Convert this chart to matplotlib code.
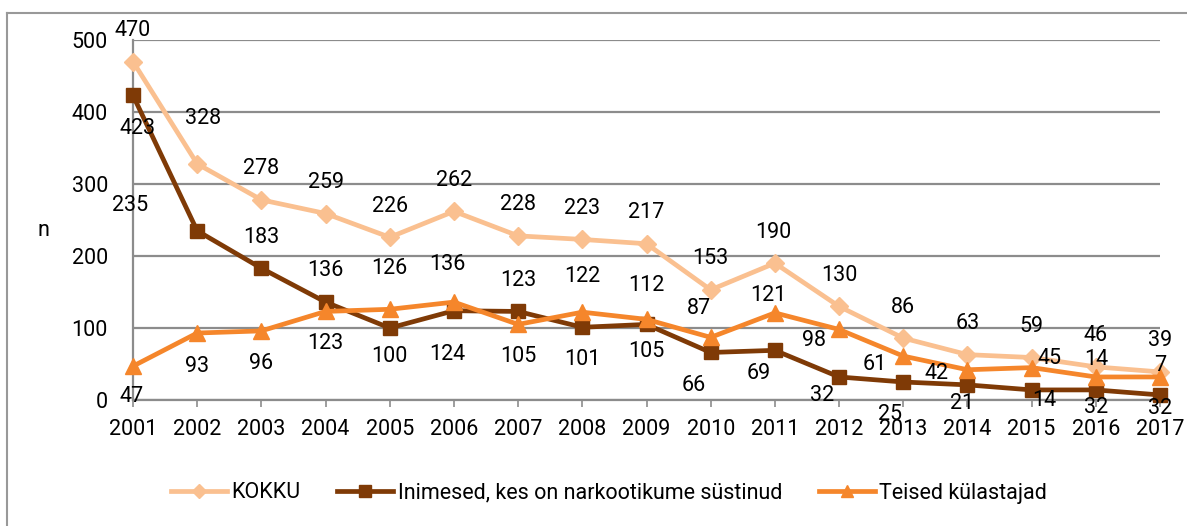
import matplotlib
matplotlib.use("Agg")
import matplotlib.pyplot as plt
from matplotlib.lines import Line2D

plt.rcParams['font.family'] = ['Roboto', 'DejaVu Sans']

years = [2001, 2002, 2003, 2004, 2005, 2006, 2007, 2008, 2009,
         2010, 2011, 2012, 2013, 2014, 2015, 2016, 2017]
kokku = [470, 328, 278, 259, 226, 262, 228, 223, 217, 153, 190, 130, 86, 63, 59, 46, 39]
systinud = [423, 235, 183, 136, 100, 124, 123, 101, 105, 66, 69, 32, 25, 21, 14, 14, 7]
teised = [47, 93, 96, 123, 126, 136, 105, 122, 112, 87, 121, 98, 61, 42, 45, 32, 32]
series_names = ["KOKKU", "Inimesed, kes on narkootikume süstinud", "Teised külastajad"]

# label offsets in pixels (dx, dy with y pointing down on screen)
off_kokku = [(0, -31), (6, -45)] + [(0, -31)] * 8 + [(-2, -31)] + [(0, -31)] * 6
off_sys = [(5, 33), (-67, -25), (0, -31), (0, -32), (0, 28), (-7, 44), (0, -31),
           (0, 32), (0, 27), (-17, 33), (-16, 23), (-17, 19), (-13, 32),
           (-5, 19), (13, 11), (0, -30), (0, -29)]
off_teised = [(-1, 30), (0, 33), (0, 33), (0, 32), (0, -41), (-7, -38), (0, 32),
              (0, -36), (0, -34), (-12, -29), (-7, -17), (-25, 11), (-28, 8),
              (-31, 4), (18, -9), (0, 31), (0, 32)]

c_kokku = '#FAC090'
c_sys = '#7F3A06'
c_teised = '#F5862B'
grid_c = '#8C8C8C'
FS = 15.5

W, H = 1187, 526
fig = plt.figure(figsize=(W / 100, H / 100), dpi=100)
ax = fig.add_axes([133 / W, 1 - 400 / H, (1160 - 133) / W, 360 / H])

lw = 3.4
l1, = ax.plot(years, kokku, color=c_kokku, lw=lw, marker='D', ms=9,
              label=series_names[0], clip_on=False, zorder=3)
l2, = ax.plot(years, systinud, color=c_sys, lw=lw, marker='s', ms=10,
              label=series_names[1], clip_on=False, zorder=4)
l3, = ax.plot(years, teised, color=c_teised, lw=lw, marker='^', ms=11,
              label=series_names[2], clip_on=False, zorder=5)

for vals, offs in ((kokku, off_kokku), (systinud, off_sys), (teised, off_teised)):
    for x, v, (dx, dy) in zip(years, vals, offs):
        ax.annotate(str(v), (x, v), xytext=(dx, -dy), textcoords='offset pixels',
                    ha='center', va='center', fontsize=FS, color='black',
                    zorder=6, annotation_clip=False)

ax.set_xlim(2001, 2017)
ax.set_ylim(0, 500)
ax.set_xticks(years)
ax.set_xticklabels([str(y) for y in years])
ax.set_yticks(range(0, 501, 100))
ax.yaxis.grid(True, color=grid_c, lw=1.6)
ax.set_axisbelow(True)
for s in ('top', 'right'):
    ax.spines[s].set_visible(False)
for s in ('left', 'bottom'):
    ax.spines[s].set_color(grid_c)
    ax.spines[s].set_linewidth(1.6)
ax.tick_params(axis='x', length=5, width=1.2, color=grid_c, labelsize=FS, pad=9)
ax.tick_params(axis='y', length=0, labelsize=FS, pad=18)
ax.set_ylabel('n', rotation=0, fontsize=FS, va='center', ha='center')
ax.yaxis.set_label_coords(-(133 - 43) / (1160 - 133), (400 - 230) / 360)

fig.legend(handles=[l1, l2, l3], loc='center', bbox_to_anchor=(609 / W, 1 - 493 / H),
           ncol=3, frameon=False, fontsize=FS, handlelength=2.6,
           columnspacing=1.7, handletextpad=0.2, markerscale=0.8)

# outer chart border
bx, by = 7 / W, 1 - 13 / H
fig.add_artist(Line2D([bx, 1.0], [by, by], transform=fig.transFigure, color='#999999', lw=1.5))
fig.add_artist(Line2D([bx, bx], [by, 0.0], transform=fig.transFigure, color='#999999', lw=1.5))

fig.savefig('out.png', dpi=100)
